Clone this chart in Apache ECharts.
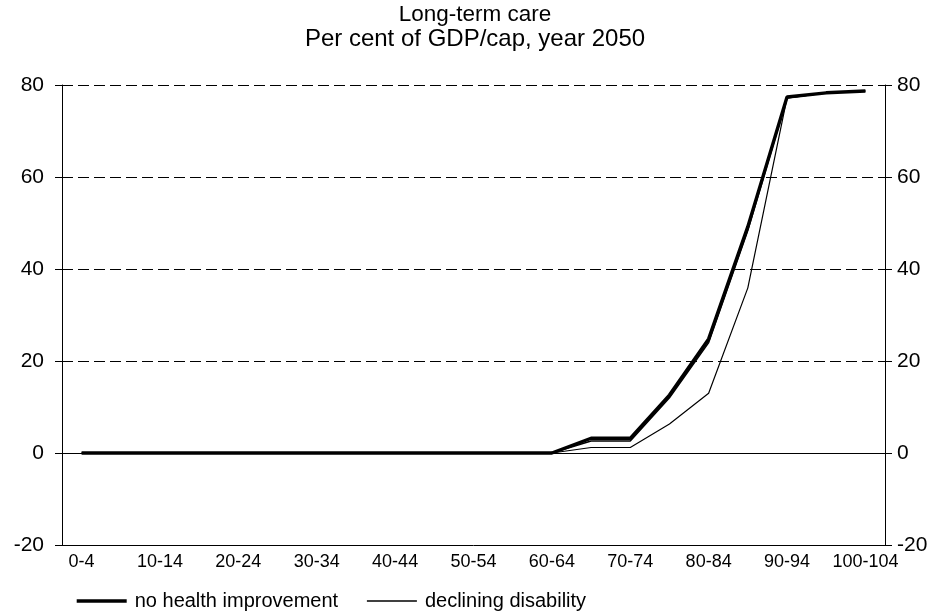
<!DOCTYPE html>
<html>
<head>
<meta charset="utf-8">
<script src="https://cdn.jsdelivr.net/npm/echarts@6/dist/echarts.min.js"></script>
<style>
  html, body { margin: 0; padding: 0; background: #fff; }
  #chart { width: 933px; height: 615px; }
</style>
</head>
<body>
<div id="chart"></div>
<script>
// Age groups, 5-year bands
const ageGroups = ['0-4','5-9','10-14','15-19','20-24','25-29','30-34','35-39','40-44','45-49',
  '50-54','55-59','60-64','65-69','70-74','75-79','80-84','85-89','90-94','95-99','100-104'];

// Long-term care cost per person, per cent of GDP per capita, 2050
const noHealthImprovement = [0,0,0,0,0,0,0,0,0,0,0,0,0,3.2,3.2,12.6,24.8,49.2,77.4,78.3,78.7];
const intermediate        = [0,0,0,0,0,0,0,0,0,0,0,0,0,2.6,2.6,12.0,24.0,48.4,77.2,78.3,78.7];
const decliningDisability = [0,0,0,0,0,0,0,0,0,0,0,0,0,1.2,1.2,6.3,13.0,35.9,77.2,78.3,78.7];

const yTicks = { min: -20, max: 80, step: 20 };

const font = 'Liberation Sans, Arial, sans-serif';
const chart = echarts.init(document.getElementById('chart'));

chart.setOption({
  animation: false,
  backgroundColor: '#ffffff',
  title: {
    text: 'Long-term care',
    subtext: 'Per cent of GDP/cap, year 2050',
    left: 470, textAlign: 'center', top: -2, itemGap: 0,
    textStyle: { fontFamily: font, fontSize: 22.5, fontWeight: 'normal', color: '#000', lineHeight: 24 },
    subtextStyle: { fontFamily: font, fontSize: 24, color: '#000', lineHeight: 24 }
  },
  legend: {
    left: 70, top: 586,
    itemWidth: 50, itemHeight: 20, itemGap: 28,
    data: [
      { name: 'no health improvement', lineStyle: { width: 3.4 } },
      { name: 'declining disability', lineStyle: { width: 1.5 } }
    ],
    textStyle: { fontFamily: font, fontSize: 20, color: '#000', padding: [0, 0, 0, 3] },
    itemStyle: { opacity: 0 }
  },
  grid: { left: 62, right: 48, top: 85, bottom: 70 },
  xAxis: {
    type: 'category',
    data: ageGroups,
    boundaryGap: true,
    axisLine: { onZero: false, lineStyle: { color: '#000', width: 1 } },
    axisTick: { interval: 0, length: 8, lineStyle: { color: '#000' } },
    axisLabel: { interval: 1, fontFamily: font, fontSize: 18, color: '#000', margin: 8 },
    splitLine: { show: false }
  },
  yAxis: [
    {
      type: 'value', min: yTicks.min, max: yTicks.max, interval: yTicks.step,
      axisLine: { show: true, lineStyle: { color: '#000', width: 1 } },
      axisTick: { show: true, length: 7, lineStyle: { color: '#000' } },
      axisLabel: { fontFamily: font, fontSize: 21, color: '#000', margin: 18 },
      splitLine: { show: true, lineStyle: { color: '#000', width: 1, type: [11, 5] } }
    },
    {
      type: 'value', position: 'right', min: yTicks.min, max: yTicks.max, interval: yTicks.step,
      axisLine: { show: true, lineStyle: { color: '#000', width: 1 } },
      axisTick: { show: true, length: 7, lineStyle: { color: '#000' } },
      axisLabel: { fontFamily: font, fontSize: 21, color: '#000', margin: 12 },
      splitLine: { show: false }
    }
  ],
  series: [
    {
      name: 'declining disability', type: 'line', data: decliningDisability,
      symbol: 'none', z: 3,
      lineStyle: { color: '#000', width: 1.2 },
      markLine: {
        silent: true, symbol: 'none', label: { show: false },
        lineStyle: { color: '#000', width: 1, type: 'solid' },
        data: [{ yAxis: 0 }]
      }
    },
    {
      name: 'intermediate', type: 'line', data: intermediate,
      symbol: 'none', z: 4,
      lineStyle: { color: '#000', width: 1.6 }
    },
    {
      name: 'no health improvement', type: 'line', data: noHealthImprovement,
      symbol: 'none', z: 5,
      lineStyle: { color: '#000', width: 3.4 }
    }
  ]
});
</script>
</body>
</html>
